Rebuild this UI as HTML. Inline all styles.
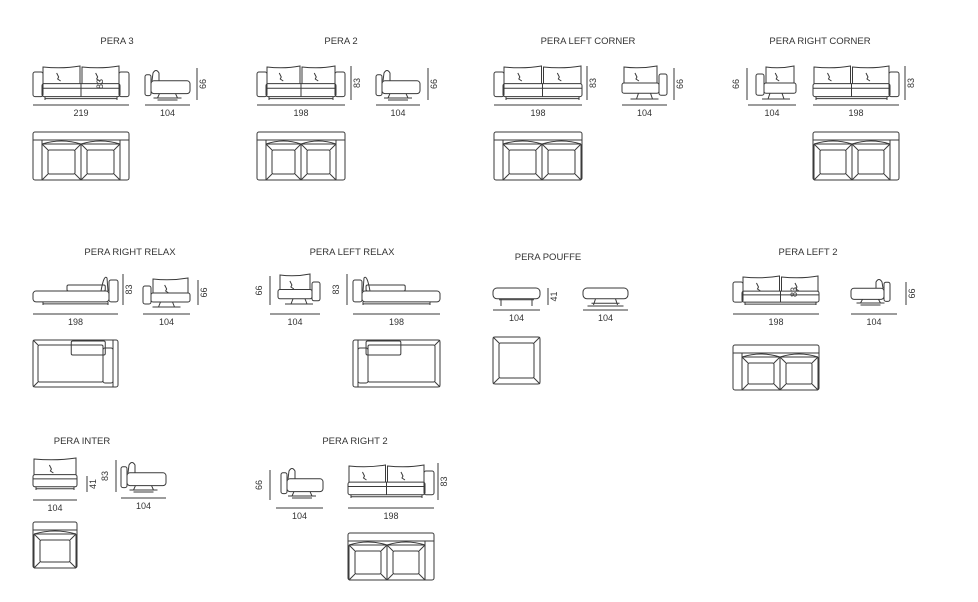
<!DOCTYPE html>
<html><head><meta charset="utf-8"><style>
html,body{margin:0;padding:0;background:#fff;width:978px;height:602px;overflow:hidden}
svg{display:block}
text{font-family:"Liberation Sans",sans-serif;fill:#333;font-size:9px}
</style></head><body>
<svg id="s" width="978" height="602" viewBox="0 0 978 602" xmlns="http://www.w3.org/2000/svg">
<g id="g" fill="none" stroke="#3a3a3a" stroke-width="1"></g>
</svg>
<script>
var g=document.getElementById('g'),s=document.getElementById('s');
var NS='http://www.w3.org/2000/svg';
function el(t,a,p){var e=document.createElementNS(NS,t);for(var k in a)e.setAttribute(k,a[k]);(p||g).appendChild(e);return e;}
function R(x,y,w,h,r){el('rect',{x:x,y:y,width:w,height:h,rx:r||1.5});}
function L(a,b,c,d){el('line',{x1:a,y1:b,x2:c,y2:d});}
function P(d){el('path',{d:d});}
function T(x,y,t,rot,sz){var e=el('text',{x:x,y:y,'text-anchor':'middle'},s);if(sz)e.setAttribute('style','font-size:'+sz+'px');if(rot)e.setAttribute('transform','rotate(-90 '+x+' '+y+')');e.textContent=t;}
function title(x,y,t){T(x,y,t,0,9.5);}
function dimH(x1,x2,y,l){L(x1,y,x2,y);T((x1+x2)/2,y+11,l);}
function dimV(x,y1,y2,l,side){L(x,y1,x,y2);var tx=side<0?x-5:x+12;T(tx-3,(y1+y2)/2,l,1);}
// front view sofa
function front(x,y,w,h,aL,aR,n){
  var a=9,top=y+6,by=y+h*0.52,bb=y+h*0.9;
  var ix=aL?x+a:x,ex=aR?x+w-a:x+w;
  if(aL)R(x,top,a+1,bb-top,2);
  if(aR)R(x+w-a-1,top,a+1,bb-top,2);
  R(ix,by,ex-ix,bb-by,2);
  var cw=(ex-ix)/n;
  for(var i=0;i<n;i++){var cx=ix+i*cw+1;P('M'+cx+' '+by+' L'+(cx)+' '+(y+1)+' Q'+(cx+cw/2)+' '+(y+3)+' '+(cx+cw-2)+' '+(y)+' L'+(cx+cw-2)+' '+by);
   P('M'+(cx+cw*0.35)+' '+(y+7)+' l2 4 l-1 2 l3 2');}
  L(ix,by+(bb-by)*0.35,ex,by+(bb-by)*0.35);
  if(n>1)L(ix+cw,by,ix+cw,bb);
  L(ix+3,bb,ix+3,y+h);L(ex-3,bb,ex-3,y+h);L(ix+3,bb+2,ex-3,bb+2);
}
// side view
function side(x,y,w,h,flip){
  var sy=y+h*0.4,sb=y+h*0.8;
  if(!flip){R(x,sy-6,6,sb-sy+8,2);P('M'+(x+7)+' '+sy+' L'+(x+8)+' '+(y+5)+' Q'+(x+11)+' '+(y)+' '+(x+14)+' '+(y+5)+' L'+(x+14)+' '+sy);R(x+6,sy,w-6,sb-sy,3);}
  else{R(x+w-6,sy-6,6,sb-sy+8,2);P('M'+(x+w-7)+' '+sy+' L'+(x+w-8)+' '+(y+5)+' Q'+(x+w-11)+' '+y+' '+(x+w-14)+' '+(y+5)+' L'+(x+w-14)+' '+sy);R(x,sy,w-6,sb-sy,3);}
  var c=x+w/2;P('M'+(c-14)+' '+(y+h-2)+' L'+(c+14)+' '+(y+h-2)+' M'+(c-10)+' '+(y+h)+' L'+(c+10)+' '+(y+h)+' M'+(c-8)+' '+sb+' L'+(c-10)+' '+(y+h-2)+' M'+(c+8)+' '+sb+' L'+(c+10)+' '+(y+h-2));
}
// chair front (corner side views with cushion)
function chair(x,y,w,h,armR){
  var sy=y+h*0.5,sb=y+h*0.8;
  if(armR)R(x+w-8,y+8,8,sb-y-6,2);else R(x,y+8,8,sb-y-6,2);
  var ix=armR?x:x+8,iw=w-8;
  R(ix,sy,iw,sb-sy,2);
  P('M'+(ix+2)+' '+sy+' L'+(ix+2)+' '+(y+1)+' Q'+(ix+iw/2)+' '+(y+3)+' '+(ix+iw-2)+' '+y+' L'+(ix+iw-2)+' '+sy);
  P('M'+(ix+iw*0.35)+' '+(y+7)+' l2 4 l-1 2 l3 2');
  var c=x+w/2;P('M'+(c-14)+' '+(y+h-1)+' L'+(c+14)+' '+(y+h-1)+' M'+(c-6)+' '+sb+' L'+(c-8)+' '+(y+h-1)+' M'+(c+6)+' '+sb+' L'+(c+8)+' '+(y+h-1));
}
// top view
function topv(x,y,w,h,aL,aR,n,backOnly){
  R(x,y,w,h,2);
  var a=9,ix=aL?x+a:x+1,ex=aR?x+w-a:x+w-1;
  if(aL)L(x+a,y+8,x+a,y+h);
  if(aR)L(x+w-a,y+8,x+w-a,y+h);
  L(x,y+8,x+w,y+8);
  var cw=(ex-ix)/n;
  for(var i=0;i<n;i++){var cx=ix+i*cw;R(cx,y+12,cw,h-12,1);R(cx+6,y+18,cw-12,h-24,0);
   L(cx,y+12,cx+6,y+18);L(cx+cw,y+12,cx+cw-6,y+18);L(cx,y+h,cx+6,y+h-6);L(cx+cw,y+h,cx+cw-6,y+h-6);
   P('M'+cx+' '+(y+12)+' Q'+(cx+cw/2)+' '+(y+6)+' '+(cx+cw)+' '+(y+12));}
}
// chaise front
function chaise(x,y,w,h,right){
  var sy=y+h*0.55,sb=y+h*0.9;
  if(right){R(x+w-9,y+6,9,sb-y-6,2);P('M'+(x+w-10)+' '+sy+' L'+(x+w-11)+' '+(y+4)+' Q'+(x+w-14)+' '+y+' '+(x+w-17)+' '+sy);
   R(x,sy,w-9,sb-sy,3);R(x+w*0.4,sy-6,w*0.45,6,0);L(x+10,sb,x+10,y+h);L(x+w-10,sb,x+w-10,y+h);L(x+10,sb+2,x+w-10,sb+2);}
  else{R(x,y+6,9,sb-y-6,2);P('M'+(x+10)+' '+sy+' L'+(x+11)+' '+(y+4)+' Q'+(x+14)+' '+y+' '+(x+17)+' '+sy);
   R(x+9,sy,w-9,sb-sy,3);R(x+w*0.15,sy-6,w*0.45,6,0);L(x+10,sb,x+10,y+h);L(x+w-10,sb,x+w-10,y+h);L(x+10,sb+2,x+w-10,sb+2);}
}
function chaiseTop(x,y,w,h,right){
  R(x,y,w,h,2);
  if(right){R(x+5,y+5,w-20,h-10,0);L(x,y,x+5,y+5);L(x,y+h,x+5,y+h-5);R(x+w*0.45,y+1,w*0.4,14,0);R(x+w-15,y+8,10,h-12,2);L(x+w-5,y,x+w-5,y+h);}
  else{R(x+15,y+5,w-20,h-10,0);L(x+w,y,x+w-5,y+5);L(x+w,y+h,x+w-5,y+h-5);R(x+w*0.15,y+1,w*0.4,14,0);R(x+5,y+8,10,h-12,2);L(x+5,y,x+5,y+h);}
}
function pouffe(x,y,w,h,swivel){
  R(x,y,w,h*0.6,4);
  if(swivel){var c=x+w/2;P('M'+(c-18)+' '+(y+h)+' L'+(c+18)+' '+(y+h)+' M'+(c-10)+' '+(y+h*0.6)+' L'+(c-12)+' '+(y+h-1)+' M'+(c+10)+' '+(y+h*0.6)+' L'+(c+12)+' '+(y+h-1)+' M'+(c-14)+' '+(y+h*0.85)+' L'+(c+14)+' '+(y+h*0.85));}
  else{L(x+8,y+h*0.6,x+8,y+h);L(x+w-8,y+h*0.6,x+w-8,y+h);L(x+6,y+h*0.65,x+w-6,y+h*0.65);}
}
function pouffeTop(x,y,w,h){R(x,y,w,h,2);R(x+6,y+6,w-12,h-12,0);L(x,y,x+6,y+6);L(x+w,y,x+w-6,y+6);L(x,y+h,x+6,y+h-6);L(x+w,y+h,x+w-6,y+h-6);}

// Row 1
title(117,44,'PERA 3');front(33,66,96,34,1,1,2);dimH(33,129,105,'219');T(103,84,'83',1);
side(145,68,45,32);dimH(145,190,105,'104');dimV(197,68,100,'66');
topv(33,132,96,48,1,1,2);

title(341,44,'PERA 2');front(257,66,88,34,1,1,2);dimH(257,345,105,'198');dimV(351,66,100,'83');
side(376,68,44,32);dimH(376,420,105,'104');dimV(428,68,100,'66');
topv(257,132,88,48,1,1,2);

title(588,44,'PERA LEFT CORNER');front(494,66,88,34,1,0,2);dimH(494,582,105,'198');dimV(587,66,100,'83');
chair(622,66,45,34,1);dimH(622,667,105,'104');dimV(674,68,100,'66');
topv(494,132,88,48,1,0,2);

title(820,44,'PERA RIGHT CORNER');chair(756,66,40,34,0);dimH(748,796,105,'104');dimV(747,68,100,'66',-1);
front(813,66,86,34,0,1,2);dimH(813,899,105,'198');dimV(905,66,100,'83');
topv(813,132,86,48,0,1,2);

// Row 2
title(130,255,'PERA RIGHT RELAX');chaise(33,274,85,31,1);dimH(33,118,314,'198');dimV(123,274,305,'83');
chair(143,278,47,30,0);dimH(143,190,314,'104');dimV(198,280,305,'66');
chaiseTop(33,340,85,47,1);

title(352,255,'PERA LEFT RELAX');chair(278,274,42,31,1);dimH(270,320,314,'104');dimV(270,276,305,'66',-1);
chaise(353,274,87,31,0);dimH(353,440,314,'198');dimV(347,274,305,'83',-1);
chaiseTop(353,340,87,47,0);

title(548,260,'PERA POUFFE');pouffe(493,288,47,18,0);dimH(493,540,310,'104');dimV(548,288,305,'41');
pouffe(583,288,45,18,1);dimH(583,628,310,'104');
pouffeTop(493,337,47,47);

title(808,255,'PERA LEFT 2');front(733,276,86,29,1,0,2);dimH(733,819,314,'198');T(797,292,'83',1);
side(851,277,39,28,1);dimH(851,897,314,'104');dimV(906,282,305,'66');
topv(733,345,86,45,1,0,2);

// Row 3
title(82,444,'PERA INTER');front(33,458,44,32,0,0,1);dimH(33,77,500,'104');dimV(87,476,492,'41');
side(121,460,45,32);dimH(121,166,498,'104');dimV(116,460,492,'83',-1);
topv(33,522,44,46,0,0,1);

title(355,444,'PERA RIGHT 2');side(281,466,42,32);dimH(276,323,508,'104');dimV(270,470,500,'66',-1);
front(348,465,86,33,0,1,2);dimH(348,434,508,'198');dimV(438,463,500,'83');
topv(348,533,86,47,0,1,2);
</script>
</body></html>
